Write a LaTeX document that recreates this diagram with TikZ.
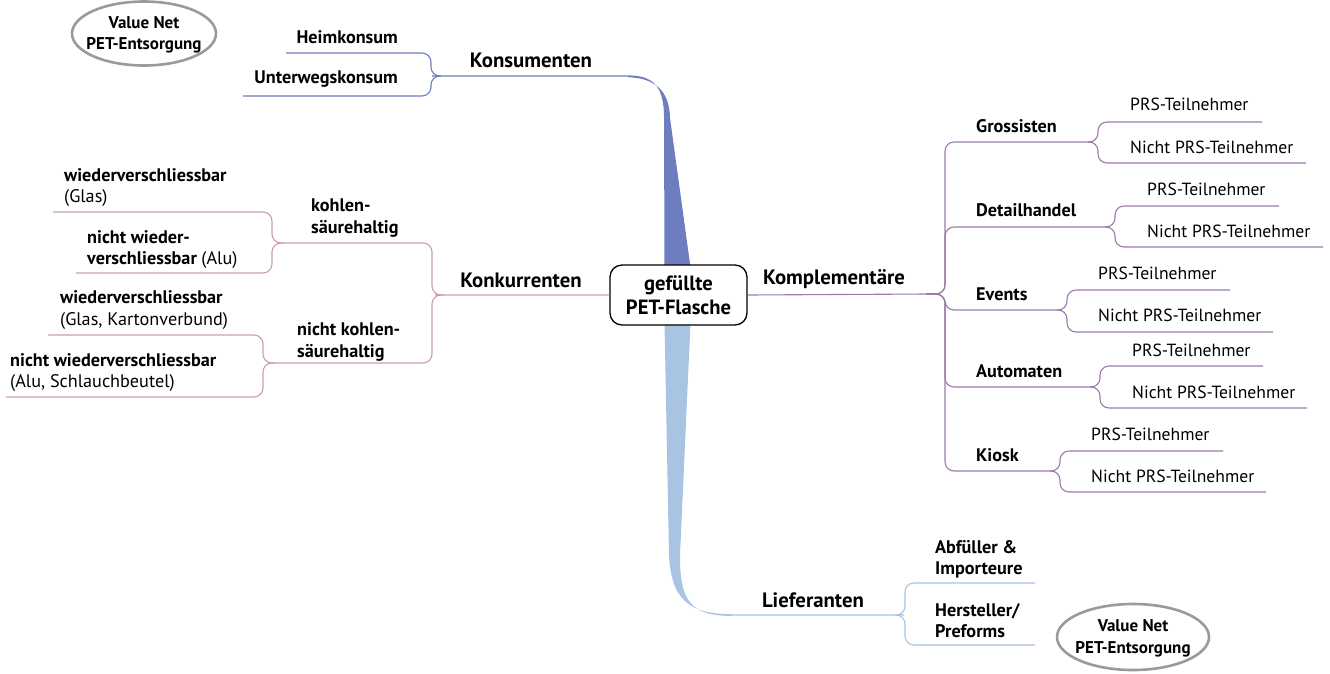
\documentclass[tikz,border=0pt]{standalone}
\usepackage{fontspec}
\setmainfont{PT Sans}
\usetikzlibrary{calc,backgrounds}
\definecolor{konsumcol}{HTML}{6E7DBF}
\definecolor{liefcol}{HTML}{A8C4E2}
\definecolor{konkcol}{HTML}{C99FA6}
\definecolor{komplcol}{HTML}{9C7BAB}
\definecolor{ringgray}{HTML}{9A9A9A}
\begin{document}
\begin{tikzpicture}[x=1pt,y=-1pt,
  rootbox/.style={draw, line width=1.3pt, rounded corners=12pt, minimum width=137pt,
    minimum height=60pt, align=center, fill=white,
    font=\bfseries\fontsize{20.6}{24}\selectfont, inner sep=2pt},
  mainlabel/.style={font=\bfseries\fontsize{20.8}{24}\selectfont, inner sep=0pt},
  sublabel/.style={font=\bfseries\fontsize{18.2}{21.5}\selectfont, inner sep=0pt, align=left},
  leaflabel/.style={font=\fontsize{17.6}{21}\selectfont, inner sep=0pt, align=left},
  ringtext/.style={font=\bfseries\fontsize{17}{21.5}\selectfont, inner sep=0pt, align=center},
  ring/.style={draw=ringgray, line width=2.6pt, fill=white},
  twig/.style={line width=1.1pt, rounded corners=9pt},
]
\useasboundingbox (0,0) rectangle (1330,673);

% central topic
\node[rootbox] (root) at (678.5,295) {gefüllte\\PET-Flasche};

% ---------------- Konsumenten ----------------
\node[mainlabel] (konsum) at (531,60) {Konsumenten};
\coordinate (konsJ) at (441,76);
\coordinate (kons-end) at (628,76);
\node[sublabel, anchor=east] (heim) at (398,37) {Heimkonsum};
\coordinate (heim-l) at (286,53);
\node[sublabel, anchor=east] (unterwegs) at (398,79) {Unterwegskonsum};
\coordinate (unterwegs-l) at (243,96);
\draw[konsumcol, twig] (kons-end) -- (konsJ) -- ++(-10,0) |- (heim-l);
\draw[konsumcol, twig] (konsJ) -- ++(-10,0) |- (unterwegs-l);

% value-net bubble, top left
\draw[ring] (144,33.5) ellipse [x radius=72pt, y radius=32pt];
\node[ringtext] (net1) at (144,35) {Value Net\\PET-Entsorgung};

% ---------------- Konkurrenten ----------------
\node[mainlabel] (konk) at (521,280) {Konkurrenten};
\coordinate (konkJ) at (444,295);
\coordinate (kohl-l) at (283,243);
\coordinate (nkohl-l) at (274,363);
\node[sublabel, anchor=west] (kohl) at (311,218) {kohlen-\\säurehaltig};
\node[sublabel, anchor=west] (nkohl) at (297,342) {nicht kohlen-\\säurehaltig};
\draw[konkcol, twig] (root.west) -- (konkJ) -- ++(-12,0) |- (kohl-l);
\draw[konkcol, twig] (konkJ) -- ++(-12,0) |- (nkohl-l);

\node[sublabel, anchor=west] (wv1) at (64,187.5) {wiederverschliessbar\\\mdseries(Glas)};
\node[sublabel, anchor=west] (nwv1) at (87,249.5) {nicht wieder-\\verschliessbar \mdseries(Alu)};
\node[sublabel, anchor=west] (wv2) at (60,310) {wiederverschliessbar\\\mdseries(Glas, Kartonverbund)};
\node[sublabel, anchor=west] (nwv2) at (10,372.5) {nicht wiederverschliessbar\\\mdseries(Alu, Schlauchbeutel)};
\coordinate (wv1-l) at (53,212);
\coordinate (nwv1-l) at (76,273);
\coordinate (wv2-l) at (48,335);
\coordinate (nwv2-l) at (6,397);
\draw[konkcol, twig] (kohl-l) -- ++(-11,0) |- (wv1-l);
\draw[konkcol, twig] (kohl-l) -- ++(-11,0) |- (nwv1-l);
\draw[konkcol, twig] (nkohl-l) -- ++(-11,0) |- (wv2-l);
\draw[konkcol, twig] (nkohl-l) -- ++(-11,0) |- (nwv2-l);

% ---------------- Komplementäre ----------------
\node[mainlabel] (kompl) at (834,279) {Komplementäre};
\coordinate (komplJ) at (926,294);
\draw[komplcol, twig] (root.east) -- (komplJ);

\node[sublabel, anchor=west] (gro) at (976,126) {Grossisten};
\node[sublabel, anchor=west] (det) at (976,210) {Detailhandel};
\node[sublabel, anchor=west] (ev)  at (976,294) {Events};
\node[sublabel, anchor=west] (aut) at (976,371) {Automaten};
\node[sublabel, anchor=west] (kio) at (976,455) {Kiosk};
\coordinate (gro-r) at (1088,142);
\coordinate (det-r) at (1105,227);
\coordinate (ev-r)  at (1057,310);
\coordinate (aut-r) at (1090,387);
\coordinate (kio-r) at (1050,471);
\foreach \s in {gro,det,ev,aut,kio}
  \draw[komplcol, twig] (komplJ) -- ++(19,0) |- (\s-r);

\node[leaflabel, anchor=west] (gro1) at (1130,104) {PRS-Teilnehmer};
\node[leaflabel, anchor=west] (gro2) at (1130,147) {Nicht PRS-Teilnehmer};
\node[leaflabel, anchor=west] (det1) at (1147,189) {PRS-Teilnehmer};
\node[leaflabel, anchor=west] (det2) at (1147,231) {Nicht PRS-Teilnehmer};
\node[leaflabel, anchor=west] (ev1)  at (1098,273) {PRS-Teilnehmer};
\node[leaflabel, anchor=west] (ev2)  at (1098,315) {Nicht PRS-Teilnehmer};
\node[leaflabel, anchor=west] (aut1) at (1132,350) {PRS-Teilnehmer};
\node[leaflabel, anchor=west] (aut2) at (1132,392) {Nicht PRS-Teilnehmer};
\node[leaflabel, anchor=west] (kio1) at (1091,434) {PRS-Teilnehmer};
\node[leaflabel, anchor=west] (kio2) at (1091,476) {Nicht PRS-Teilnehmer};
\coordinate (gro1-r) at (1262,122);
\coordinate (gro2-r) at (1306,163);
\coordinate (det1-r) at (1279,206);
\coordinate (det2-r) at (1323,247);
\coordinate (ev1-r)  at (1230,290);
\coordinate (ev2-r)  at (1273,332);
\coordinate (aut1-r) at (1263,366);
\coordinate (aut2-r) at (1307,408);
\coordinate (kio1-r) at (1223,451);
\coordinate (kio2-r) at (1266,492);
\foreach \s in {gro,det,ev,aut,kio}{
  \draw[komplcol, twig] (\s-r) -- ++(10,0) |- (\s1-r);
  \draw[komplcol, twig] (\s-r) -- ++(10,0) |- (\s2-r);
}

% ---------------- Lieferanten ----------------
\node[mainlabel] (lief) at (813,600) {Lieferanten};
\coordinate (liefJ) at (895,615);
\coordinate (lief-end) at (732,615);
\node[sublabel, anchor=west] (abf) at (935,559) {Abfüller \&\\Importeure};
\node[sublabel, anchor=west] (her) at (935,620.5) {Hersteller/\\Preforms};
\coordinate (abf-r) at (1035,583);
\coordinate (her-r) at (1035,645);
\draw[liefcol, twig] (lief-end) -- (liefJ) -- ++(10,0) |- (abf-r);
\draw[liefcol, twig] (liefJ) -- ++(10,0) |- (her-r);

% value-net bubble, bottom right
\draw[ring] (1133,637) ellipse [x radius=76pt, y radius=33pt];
\node[ringtext] (net2) at (1133,638.5) {Value Net\\PET-Entsorgung};

% tapered main branches behind the central box
\begin{pgfonlayer}{background}
  \fill[konsumcol] ($(root.north)+(-14,3)$) -- (664,118)
    .. controls (664,88) and (655,75.5) .. ($(kons-end)+(0,-0.6)$)
    -- ($(kons-end)+(0,1.2)$)
    .. controls (654,78) and (669.5,90) .. (670,118)
    -- ($(root.north)+(12,3)$) -- cycle;
  \fill[liefcol] ($(root.south)+(-14,-3)$) -- (669,555)
    .. controls (671,600) and (690,614.4) .. ($(lief-end)+(0,-0.9)$)
    -- ($(lief-end)+(0,0.9)$)
    .. controls (688,616) and (680,598) .. (680,555)
    -- ($(root.south)+(12,-3)$) -- cycle;
\end{pgfonlayer}
\end{tikzpicture}
\end{document}
